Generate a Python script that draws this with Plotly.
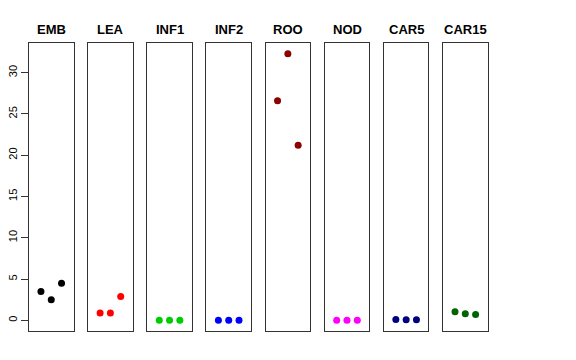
import plotly.graph_objects as go

categories = ["EMB", "LEA", "INF1", "INF2", "ROO", "NOD", "CAR5", "CAR15"]
colors = ["#000000", "#FF0000", "#00CD00", "#0000FF", "#8B0000", "#FF00FF", "#000080", "#006400"]
positions = [1, 2, 3]
values = {
    "EMB": [3.5, 2.5, 4.5],
    "LEA": [0.9, 0.9, 2.9],
    "INF1": [0.0, 0.0, 0.0],
    "INF2": [0.0, 0.0, 0.0],
    "ROO": [26.6, 32.3, 21.2],
    "NOD": [0.02, 0.02, 0.02],
    "CAR5": [0.1, 0.08, 0.08],
    "CAR15": [1.05, 0.8, 0.7],
}
y_ticks = [0, 5, 10, 15, 20, 25, 30]

# page body has an 8px margin; build the figure in the remaining area
OFF = 8
W, H = 576 - OFF, 360 - OFF
left0, pw, step = 29 - OFF, 44.5, 59.15
top, bottom = 43 - OFF, 331 - OFF

allv = [v for k in categories for v in values[k]]
ymin, ymax = min(allv), max(allv)
pad = 0.04 * (ymax - ymin)
yr = [ymin - pad, ymax + pad]
xr = [0 - 0.16, 4 + 0.16]

fig = go.Figure()
annotations = []
for i, cat in enumerate(categories):
    n = "" if i == 0 else str(i + 1)
    x0 = left0 + i * step
    x1 = x0 + pw
    fig.add_trace(go.Scatter(
        x=positions, y=values[cat], mode="markers",
        marker=dict(color=colors[i], size=7),
        xaxis="x" + n, yaxis="y" + n, showlegend=False, cliponaxis=False,
    ))
    fig.layout["xaxis" + n] = dict(
        domain=[x0 / W, x1 / W], range=xr, showticklabels=False, ticks="",
        showgrid=False, zeroline=False, showline=True, mirror=True,
        linecolor="#333333", linewidth=1, anchor="y" + n, fixedrange=True,
        automargin=False,
    )
    ydict = dict(
        domain=[1 - bottom / H, 1 - top / H], range=yr, showgrid=False,
        zeroline=False, showline=True, mirror=True, linecolor="#333333",
        linewidth=1, anchor="x" + n, fixedrange=True, automargin=False,
    )
    if i == 0:
        ydict.update(tickvals=y_ticks, ticks="outside", ticklen=7,
                     tickcolor="#333333", tickangle=-90,
                     tickfont=dict(size=11, color="#000000"))
    else:
        ydict.update(showticklabels=False, ticks="")
    fig.layout["yaxis" + n] = ydict
    annotations.append(dict(
        text="<b>" + cat + "</b>", x=(x0 + x1) / 2 / W, y=1 - (29 - OFF) / H,
        xref="paper", yref="paper", xanchor="center", yanchor="middle",
        showarrow=False, font=dict(size=13, color="#000000"),
    ))

fig.update_layout(
    width=W, height=H, margin=dict(l=0, r=0, t=0, b=0),
    paper_bgcolor="white", plot_bgcolor="white",
    font=dict(family="Liberation Sans, Arial, sans-serif"),
    annotations=annotations,
)
fig.write_html("out.html")
